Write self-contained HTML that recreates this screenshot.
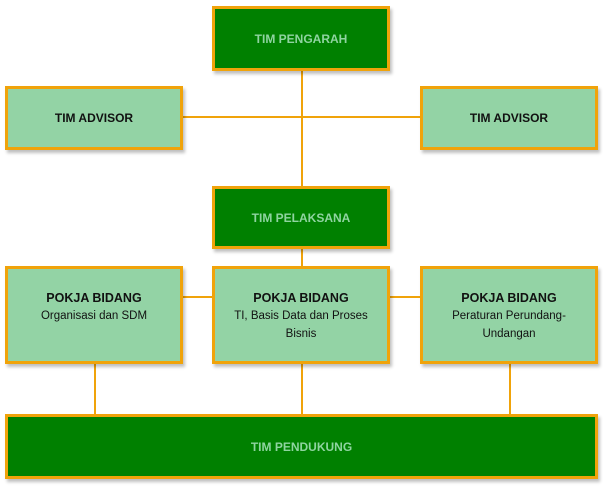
<!DOCTYPE html>
<html><head><style>
body{margin:0;width:603px;height:487px;background:#fff;position:relative;overflow:hidden;font-family:"Liberation Sans",Arial,sans-serif;}
.b{position:absolute;box-sizing:border-box;border:3px solid #f0a30a;box-shadow:2px 3px 3px rgba(0,0,0,0.25);text-align:center;font-size:12px;}
.d{background:#008000;color:#8fd4a0;font-weight:bold;display:flex;align-items:center;justify-content:center;}
.l{background:#93d3a5;color:#111;}
.a{font-weight:bold;display:flex;align-items:center;justify-content:center;}
.p{padding-top:21px;line-height:17px;}
.p b{font-size:12.5px;}
.p span{font-size:11.5px;}
.h,.v{position:absolute;background:#f0a30a;}
.h{height:2px}.v{width:2px}
</style></head><body>
<div class="v" style="left:301px;top:70px;height:116px"></div>
<div class="h" style="left:183px;top:116px;width:237px"></div>
<div class="v" style="left:301px;top:249px;height:17px"></div>
<div class="h" style="left:183px;top:296px;width:237px"></div>
<div class="v" style="left:94px;top:364px;height:50px"></div>
<div class="v" style="left:301px;top:364px;height:50px"></div>
<div class="v" style="left:509px;top:364px;height:50px"></div>

<div class="b d" style="left:212px;top:6px;width:178px;height:65px">TIM PENGARAH</div>
<div class="b l a" style="left:5px;top:86px;width:178px;height:64px">TIM ADVISOR</div>
<div class="b l a" style="left:420px;top:86px;width:178px;height:64px">TIM ADVISOR</div>
<div class="b d" style="left:212px;top:186px;width:178px;height:63px">TIM PELAKSANA</div>
<div class="b l p" style="left:5px;top:266px;width:178px;height:98px"><b>POKJA BIDANG</b><br><span>Organisasi dan SDM</span></div>
<div class="b l p" style="left:212px;top:266px;width:178px;height:98px"><b>POKJA BIDANG</b><br><span>TI, Basis Data dan Proses<br>Bisnis</span></div>
<div class="b l p" style="left:420px;top:266px;width:178px;height:98px"><b>POKJA BIDANG</b><br><span>Peraturan Perundang-<br>Undangan</span></div>
<div class="b d" style="left:5px;top:414px;width:593px;height:65px">TIM PENDUKUNG</div>
</body></html>
